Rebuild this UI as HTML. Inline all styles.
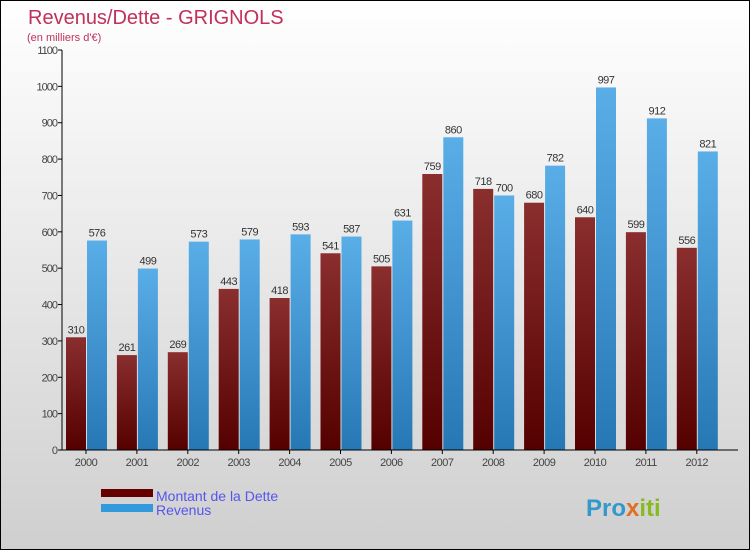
<!DOCTYPE html>
<html><head><meta charset="utf-8"><style>
body{margin:0}
#wrap{position:relative;width:748px;height:548px;border:1px solid #000;background:linear-gradient(#fff,#cfcfcf);font-family:"Liberation Sans",sans-serif;overflow:hidden}
</style></head><body>
<div id="wrap">
<svg id="svg" width="748" height="548" style="position:absolute;left:0;top:0">
<defs>
<linearGradient id="gd" x1="0" y1="0" x2="0" y2="1"><stop offset="0" stop-color="#8a2e2e"/><stop offset="1" stop-color="#550000"/></linearGradient>
<linearGradient id="gr" x1="0" y1="0" x2="0" y2="1"><stop offset="0" stop-color="#5aaee8"/><stop offset="1" stop-color="#2678b4"/></linearGradient>
</defs>
<text x="27" y="23" font-size="20" fill="#c0305a">Revenus/Dette - GRIGNOLS</text>
<text x="26" y="40" font-size="11" fill="#c0305a">(en milliers d'€)</text>
<g id="plot"></g>
<rect x="100" y="488" width="52" height="8" fill="#660000"/>
<rect x="100" y="503" width="52" height="8" fill="#3399dd"/>
<text x="155" y="500" font-size="14" fill="#5555ee">Montant de la Dette</text>
<text x="155" y="514" font-size="14" fill="#5555ee">Revenus</text>
<text x="585" y="515" font-size="24" font-weight="bold" fill="#3399cc">Pro<tspan fill="#e07020">x</tspan><tspan fill="#88bb22">iti</tspan></text>
</svg>
</div>
<script>
const years=["2000","2001","2002","2003","2004","2005","2006","2007","2008","2009","2010","2011","2012"];
const dette=[310,261,269,443,418,541,505,759,718,680,640,599,556];
const revenus=[576,499,573,579,593,587,631,860,700,782,997,912,821];
const ticks=[0,100,200,300,400,500,600,700,800,900,1000,1100];
const NS="http://www.w3.org/2000/svg";
const g=document.getElementById('plot');
const y0=449,yMax=1100,h=400;
const y=v=>y0-v/yMax*h;
const x=i=>85+i*50.9;
function mk(t,a){const e=document.createElementNS(NS,t);for(const k in a)e.setAttribute(k,a[k]);g.appendChild(e);return e;}
ticks.forEach(t=>{
  const l=mk('line',{x1:57,x2:61,y1:y(t),y2:y(t),stroke:'#000'});
  
  
  const tx=mk('text',{x:56,y:y(t)+4,'font-size':11,fill:'#444','text-anchor':'end','letter-spacing':'-1'});
  tx.textContent=t;
  
  
});
years.forEach((yr,i)=>{
  const cx=x(i);
  const b1=mk('rect',{x:cx-20,y:y(dette[i]),width:20,height:y0-y(dette[i]),fill:'url(#gd)'});
  
  
  const b2=mk('rect',{x:cx+1,y:y(revenus[i]),width:20,height:y0-y(revenus[i]),fill:'url(#gr)'});
  
  
  const t1=mk('text',{x:cx-10,y:y(dette[i])-4,'font-size':11,fill:'#333','text-anchor':'middle','letter-spacing':'-0.5'});
  t1.textContent=dette[i];
  
  
  const t2=mk('text',{x:cx+11,y:y(revenus[i])-4,'font-size':11,fill:'#333','text-anchor':'middle','letter-spacing':'-0.5'});
  t2.textContent=revenus[i];
  
  
  const tk=mk('line',{x1:cx,x2:cx,y1:y0,y2:y0+4,stroke:'#000'});
  
  
  const xl=mk('text',{x:cx,y:y0+16,'font-size':11,fill:'#444','text-anchor':'middle','letter-spacing':'-0.5'});
  xl.textContent=yr;
  
  
});
const ax=mk('line',{x1:61,x2:61,y1:y(1100),y2:y0,stroke:'#000'});


const bx=mk('line',{x1:61,x2:737,y1:y0,y2:y0,stroke:'#000'});


</script>
</body></html>
